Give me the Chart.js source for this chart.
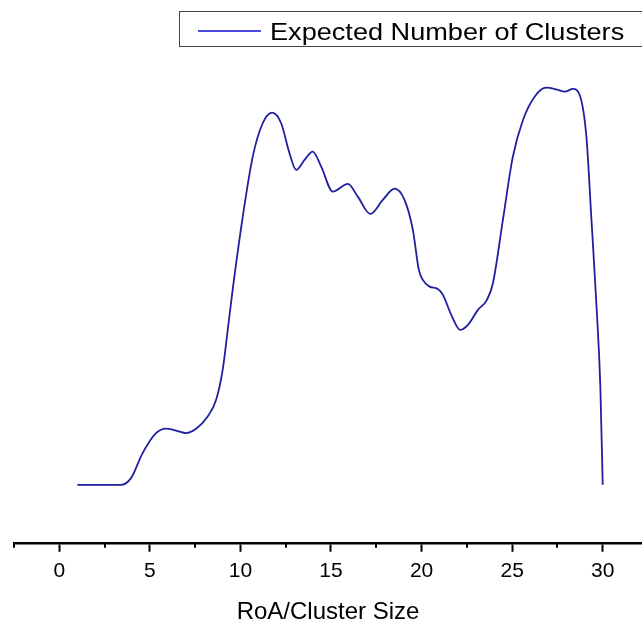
<!DOCTYPE html>
<html>
<head>
<meta charset="utf-8">
<script src="https://cdn.jsdelivr.net/npm/chart.js@4/dist/chart.umd.min.js"></script>
<style>
  html, body { margin: 0; padding: 0; background: #fff; overflow: hidden; }
  #wrap { position: relative; width: 642px; height: 624px; }
</style>
</head>
<body>
<div id="wrap"><canvas id="c" width="642" height="624"></canvas></div>
<script>
// RoA / cluster size on the x axis
const clusterSize = [
  1.0, 3.4, 3.96, 4.6, 5.34, 5.9, 6.45, 7.0, 7.55, 8.19, 8.66, 9.02, 9.3, 9.57,
  10.13, 10.68, 11.23, 11.75, 12.25, 12.71, 13.08, 13.54, 13.99, 14.46, 15.1,
  15.93, 16.48, 17.17, 17.86, 18.51, 19.06, 19.52, 19.85, 20.07, 20.44, 20.9,
  21.18, 21.64, 22.14, 22.56, 23.11, 23.61, 23.94, 24.49, 25.04, 25.6, 26.24,
  26.89, 27.44, 27.9, 28.36, 28.73, 29.1, 29.38, 29.65, 29.87, 30.0
];
// expected number of clusters at each size
const expectedClusters = [
  0, 0, 0.067, 0.317, 0.517, 0.563, 0.543, 0.517, 0.56, 0.683, 0.85, 1.15, 1.55, 1.95,
  2.683, 3.283, 3.617, 3.723, 3.617, 3.317, 3.15, 3.25, 3.333, 3.183, 2.933,
  3.01, 2.883, 2.71, 2.85, 2.963, 2.85, 2.55, 2.15, 2.05, 1.983, 1.96,
  1.9, 1.7, 1.55, 1.6, 1.75, 1.85, 2.017, 2.65, 3.283, 3.65, 3.883,
  3.973, 3.957, 3.933, 3.96, 3.9, 3.483, 2.65, 1.817, 0.983, 0
];
// x tick positions (every 2.5; labelled every 5)
const xTicks = [-2.5, 0, 2.5, 5, 7.5, 10, 12.5, 15, 17.5, 20, 22.5, 25, 27.5, 30];

const seriesLabel = 'Expected Number of Clusters';
const lineColor = '#1f1fa0';
const FONT = '"Liberation Sans", Arial, sans-serif';

const isMajor = v => Math.abs(v % 5) < 1e-9;

// framed legend in the top-right corner
const framedLegend = {
  id: 'framedLegend',
  afterDraw(chart) {
    const ctx = chart.ctx;
    ctx.save();
    ctx.strokeStyle = '#444';
    ctx.lineWidth = 1;
    ctx.strokeRect(179.5, 11.5, 500, 35);
    ctx.strokeStyle = '#1010d8';
    ctx.lineWidth = 1.4;
    ctx.beginPath();
    ctx.moveTo(198, 31);
    ctx.lineTo(261, 31);
    ctx.stroke();
    ctx.fillStyle = '#000';
    ctx.font = '24px ' + FONT;
    ctx.textBaseline = 'alphabetic';
    ctx.textAlign = 'left';
    ctx.translate(270, 39.5);
    ctx.scale(1.13, 1);
    ctx.fillText(chart.data.datasets[0].label, 0, 0);
    ctx.restore();
  }
};

// short minor ticks between the labelled ones
const minorTicks = {
  id: 'minorTicks',
  afterDraw(chart) {
    const s = chart.scales.x;
    const ctx = chart.ctx;
    ctx.save();
    ctx.strokeStyle = '#000';
    ctx.lineWidth = 2;
    xTicks.filter(v => !isMajor(v)).forEach(v => {
      const px = Math.round(s.getPixelForValue(v));
      ctx.beginPath();
      ctx.moveTo(px, s.top);
      ctx.lineTo(px, s.top + 5);
      ctx.stroke();
    });
    ctx.restore();
  }
};

new Chart(document.getElementById('c'), {
  type: 'line',
  data: {
    datasets: [{
      label: seriesLabel,
      data: clusterSize.map((x, i) => ({ x, y: expectedClusters[i] })),
      borderColor: lineColor,
      borderWidth: 1.8,
      pointRadius: 0,
      fill: false,
      cubicInterpolationMode: 'monotone'
    }]
  },
  options: {
    responsive: false,
    animation: false,
    layout: { padding: { left: 14, right: 0, top: 0, bottom: 0 } },
    plugins: { legend: { display: false }, tooltip: { enabled: false } },
    scales: {
      x: {
        type: 'linear',
        min: -2.5,
        max: 32.17,
        afterBuildTicks(scale) { scale.ticks = xTicks.map(v => ({ value: v })); },
        grid: {
          drawOnChartArea: false,
          drawTicks: true,
          tickLength: 9,
          tickWidth: 2,
          tickColor: c => (c.tick && isMajor(c.tick.value)) ? '#000' : 'rgba(0,0,0,0)'
        },
        border: { display: true, color: '#000', width: 2.5 },
        ticks: {
          autoSkip: false,
          maxRotation: 0,
          color: '#000',
          padding: 7,
          font: { family: FONT, size: 21 },
          callback: v => isMajor(v) ? String(v) : ''
        },
        title: {
          display: true,
          text: 'RoA/Cluster Size',
          color: '#000',
          font: { family: FONT, size: 24, lineHeight: 1.0 },
          padding: { top: 9, bottom: 0 }
        }
      },
      y: {
        display: false,
        min: -0.58,
        max: 4.85
      }
    }
  },
  plugins: [framedLegend, minorTicks]
});
</script>
</body>
</html>
